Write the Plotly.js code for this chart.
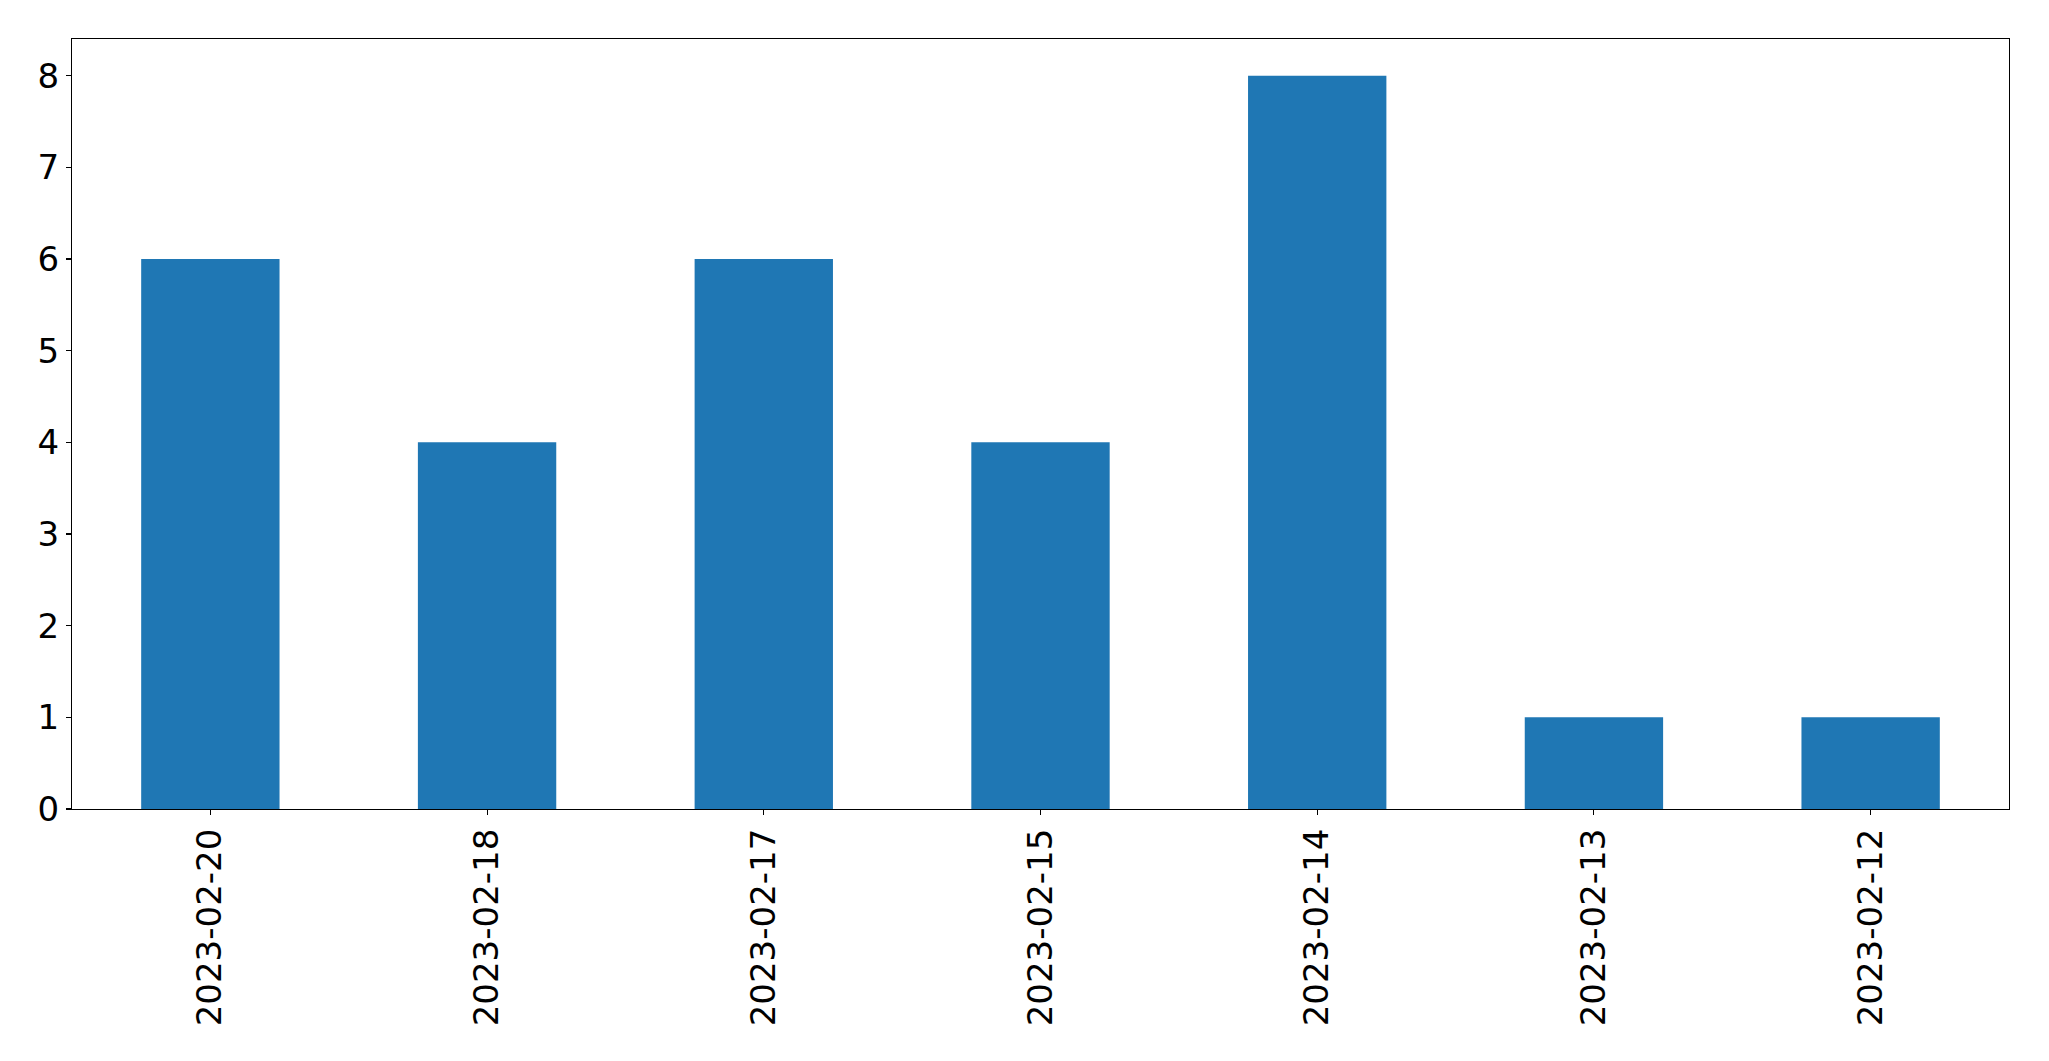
<!DOCTYPE html>
<html>
<head>
<meta charset="utf-8">
<script src="https://cdn.plot.ly/plotly-3.0.1.min.js"></script>
<style>html,body{margin:0;padding:0;background:#fff;}#chart{width:2049px;height:1061px;}</style>
</head>
<body>
<div id="chart"></div>
<script>
const categories = ["2023-02-20","2023-02-18","2023-02-17","2023-02-15","2023-02-14","2023-02-13","2023-02-12"];
const counts = [6, 4, 6, 4, 8, 1, 1];
const yTicks = [0,1,2,3,4,5,6,7,8];

const font = {family: "DejaVu Sans, sans-serif", size: 34, color: "#000"};
Plotly.newPlot("chart", [{
  type: "bar",
  x: categories,
  y: counts,
  width: 0.5,
  marker: {color: "#1f77b4", line: {width: 0}},
  hoverinfo: "x+y"
}], {
  width: 2049, height: 1061,
  margin: {l: 72, r: 40, t: 39, b: 252, pad: 0},
  paper_bgcolor: "#fff", plot_bgcolor: "#fff",
  font: font,
  showlegend: false,
  xaxis: {
    type: "category",
    range: [-0.5, 6.5],
    tickangle: -90,
    ticks: "outside", ticklen: 5, tickwidth: 1.1, tickcolor: "#000",
    showline: true, linecolor: "#000", linewidth: 1.1, mirror: true,
    showgrid: false, zeroline: false,
    tickfont: font
  },
  yaxis: {
    range: [0, 8.4],
    tickvals: yTicks,
    ticktext: yTicks.map(String),
    ticks: "outside", ticklen: 5, tickwidth: 1.1, tickcolor: "#000",
    showline: true, linecolor: "#000", linewidth: 1.1, mirror: true,
    showgrid: false, zeroline: false,
    tickfont: font
  }
}, {displayModeBar: false, staticPlot: true});
</script>
</body>
</html>
